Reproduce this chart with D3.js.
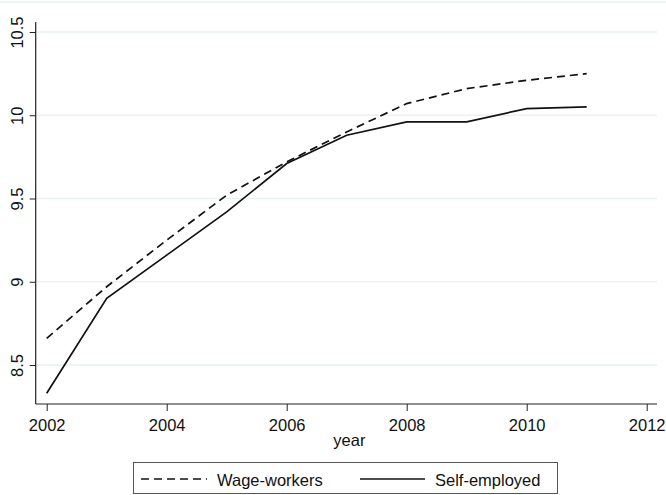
<!DOCTYPE html>
<html>
<head>
<meta charset="utf-8">
<script src="https://cdn.jsdelivr.net/npm/d3@7"></script>
<style>
  html, body { margin: 0; padding: 0; background: #fff; }
  svg { display: block; font-family: "Liberation Sans", Arial, sans-serif; }
</style>
</head>
<body>
<svg id="chart" width="666" height="495"></svg>
<script>
// Series by survey year
const years = [2002, 2003, 2004, 2005, 2006, 2007, 2008, 2009, 2010, 2011];
const wageWorkers = [8.66, 8.97, 9.25, 9.52, 9.72, 9.90, 10.07, 10.16, 10.21, 10.25];
const selfEmployed = [8.33, 8.90, 9.16, 9.42, 9.71, 9.88, 9.96, 9.96, 10.04, 10.05];
const xTicks = [2002, 2004, 2006, 2008, 2010, 2012];
const yTicks = [8.5, 9, 9.5, 10, 10.5];
const seriesNames = ["Wage-workers", "Self-employed"];

const svg = d3.select("#chart");
const fontSize = 16.5;

// Plot region
const region = { left: 35.7, right: 657, top: 22, bottom: 404 };

const x = d3.scaleLinear().domain([2002, 2012]).range([46.7, 646.7]);
const y = d3.scaleLinear().domain([8.5, 10.5]).range([365, 32]);

// Faint outer frame line at the top
svg.append("line")
  .attr("x1", 0).attr("x2", 666).attr("y1", 2).attr("y2", 2)
  .attr("stroke", "#eaf2f3").attr("stroke-width", 1.5);

// Horizontal gridlines
svg.append("g")
  .selectAll("line")
  .data(yTicks)
  .join("line")
  .attr("x1", region.left).attr("x2", region.right)
  .attr("y1", d => y(d)).attr("y2", d => y(d))
  .attr("stroke", "#eaf2f3").attr("stroke-width", 1.5);

// Y axis
const yAxis = svg.append("g")
  .attr("transform", `translate(${region.left},0)`)
  .call(d3.axisLeft(y).tickValues(yTicks).tickSize(6).tickSizeOuter(0)
    .tickFormat(d3.format("~g")));
yAxis.select(".domain").remove();
yAxis.selectAll(".tick line").attr("stroke", "#222").attr("stroke-width", 1);
yAxis.selectAll(".tick text")
  .attr("font-size", fontSize)
  .attr("font-family", "Liberation Sans, Arial, sans-serif")
  .attr("fill", "#111")
  .attr("x", null).attr("dy", null)
  .attr("text-anchor", "middle")
  .attr("transform", "translate(-12.5,0) rotate(-90)");
svg.append("line")
  .attr("x1", region.left).attr("x2", region.left)
  .attr("y1", region.top).attr("y2", region.bottom)
  .attr("stroke", "#222").attr("stroke-width", 1.2);

// X axis
const xAxis = svg.append("g")
  .attr("transform", `translate(0,${region.bottom})`)
  .call(d3.axisBottom(x).tickValues(xTicks).tickSize(7).tickSizeOuter(0)
    .tickFormat(d3.format("d")));
xAxis.select(".domain").remove();
xAxis.selectAll(".tick line").attr("stroke", "#222").attr("stroke-width", 1);
xAxis.selectAll(".tick text")
  .attr("font-size", fontSize)
  .attr("font-family", "Liberation Sans, Arial, sans-serif")
  .attr("fill", "#111")
  .attr("dy", null)
  .attr("y", 27);
svg.append("line")
  .attr("x1", region.left).attr("x2", region.right)
  .attr("y1", region.bottom).attr("y2", region.bottom)
  .attr("stroke", "#222").attr("stroke-width", 1.2);

// Axis title
svg.append("text")
  .attr("x", (region.left + region.right) / 2 + 3)
  .attr("y", 446)
  .attr("text-anchor", "middle")
  .attr("font-size", fontSize)
  .attr("fill", "#111")
  .text("year");

// Lines
const line = d3.line()
  .x((d, i) => x(years[i]))
  .y(d => y(d));

const styles = [
  { values: wageWorkers, dash: "8,5" },
  { values: selfEmployed, dash: null }
];

svg.append("g")
  .selectAll("path")
  .data(styles)
  .join("path")
  .attr("d", d => line(d.values))
  .attr("fill", "none")
  .attr("stroke", "#111")
  .attr("stroke-width", 1.7)
  .attr("stroke-dasharray", d => d.dash);

// Legend
const legend = svg.append("g");
legend.append("rect")
  .attr("x", 133.5).attr("y", 462.5)
  .attr("width", 424).attr("height", 31)
  .attr("fill", "#fff")
  .attr("stroke", "#555").attr("stroke-width", 1);

const legendItems = [
  { x0: 141, x1: 207, tx: 217, dash: "8,5", label: seriesNames[0] },
  { x0: 360, x1: 425, tx: 435, dash: null, label: seriesNames[1] }
];
legendItems.forEach(it => {
  legend.append("line")
    .attr("x1", it.x0).attr("x2", it.x1)
    .attr("y1", 479).attr("y2", 479)
    .attr("stroke", "#111").attr("stroke-width", 1.7)
    .attr("stroke-dasharray", it.dash);
  legend.append("text")
    .attr("x", it.tx).attr("y", 485.5)
    .attr("font-size", fontSize)
    .attr("fill", "#111")
    .text(it.label);
});
</script>
</body>
</html>
